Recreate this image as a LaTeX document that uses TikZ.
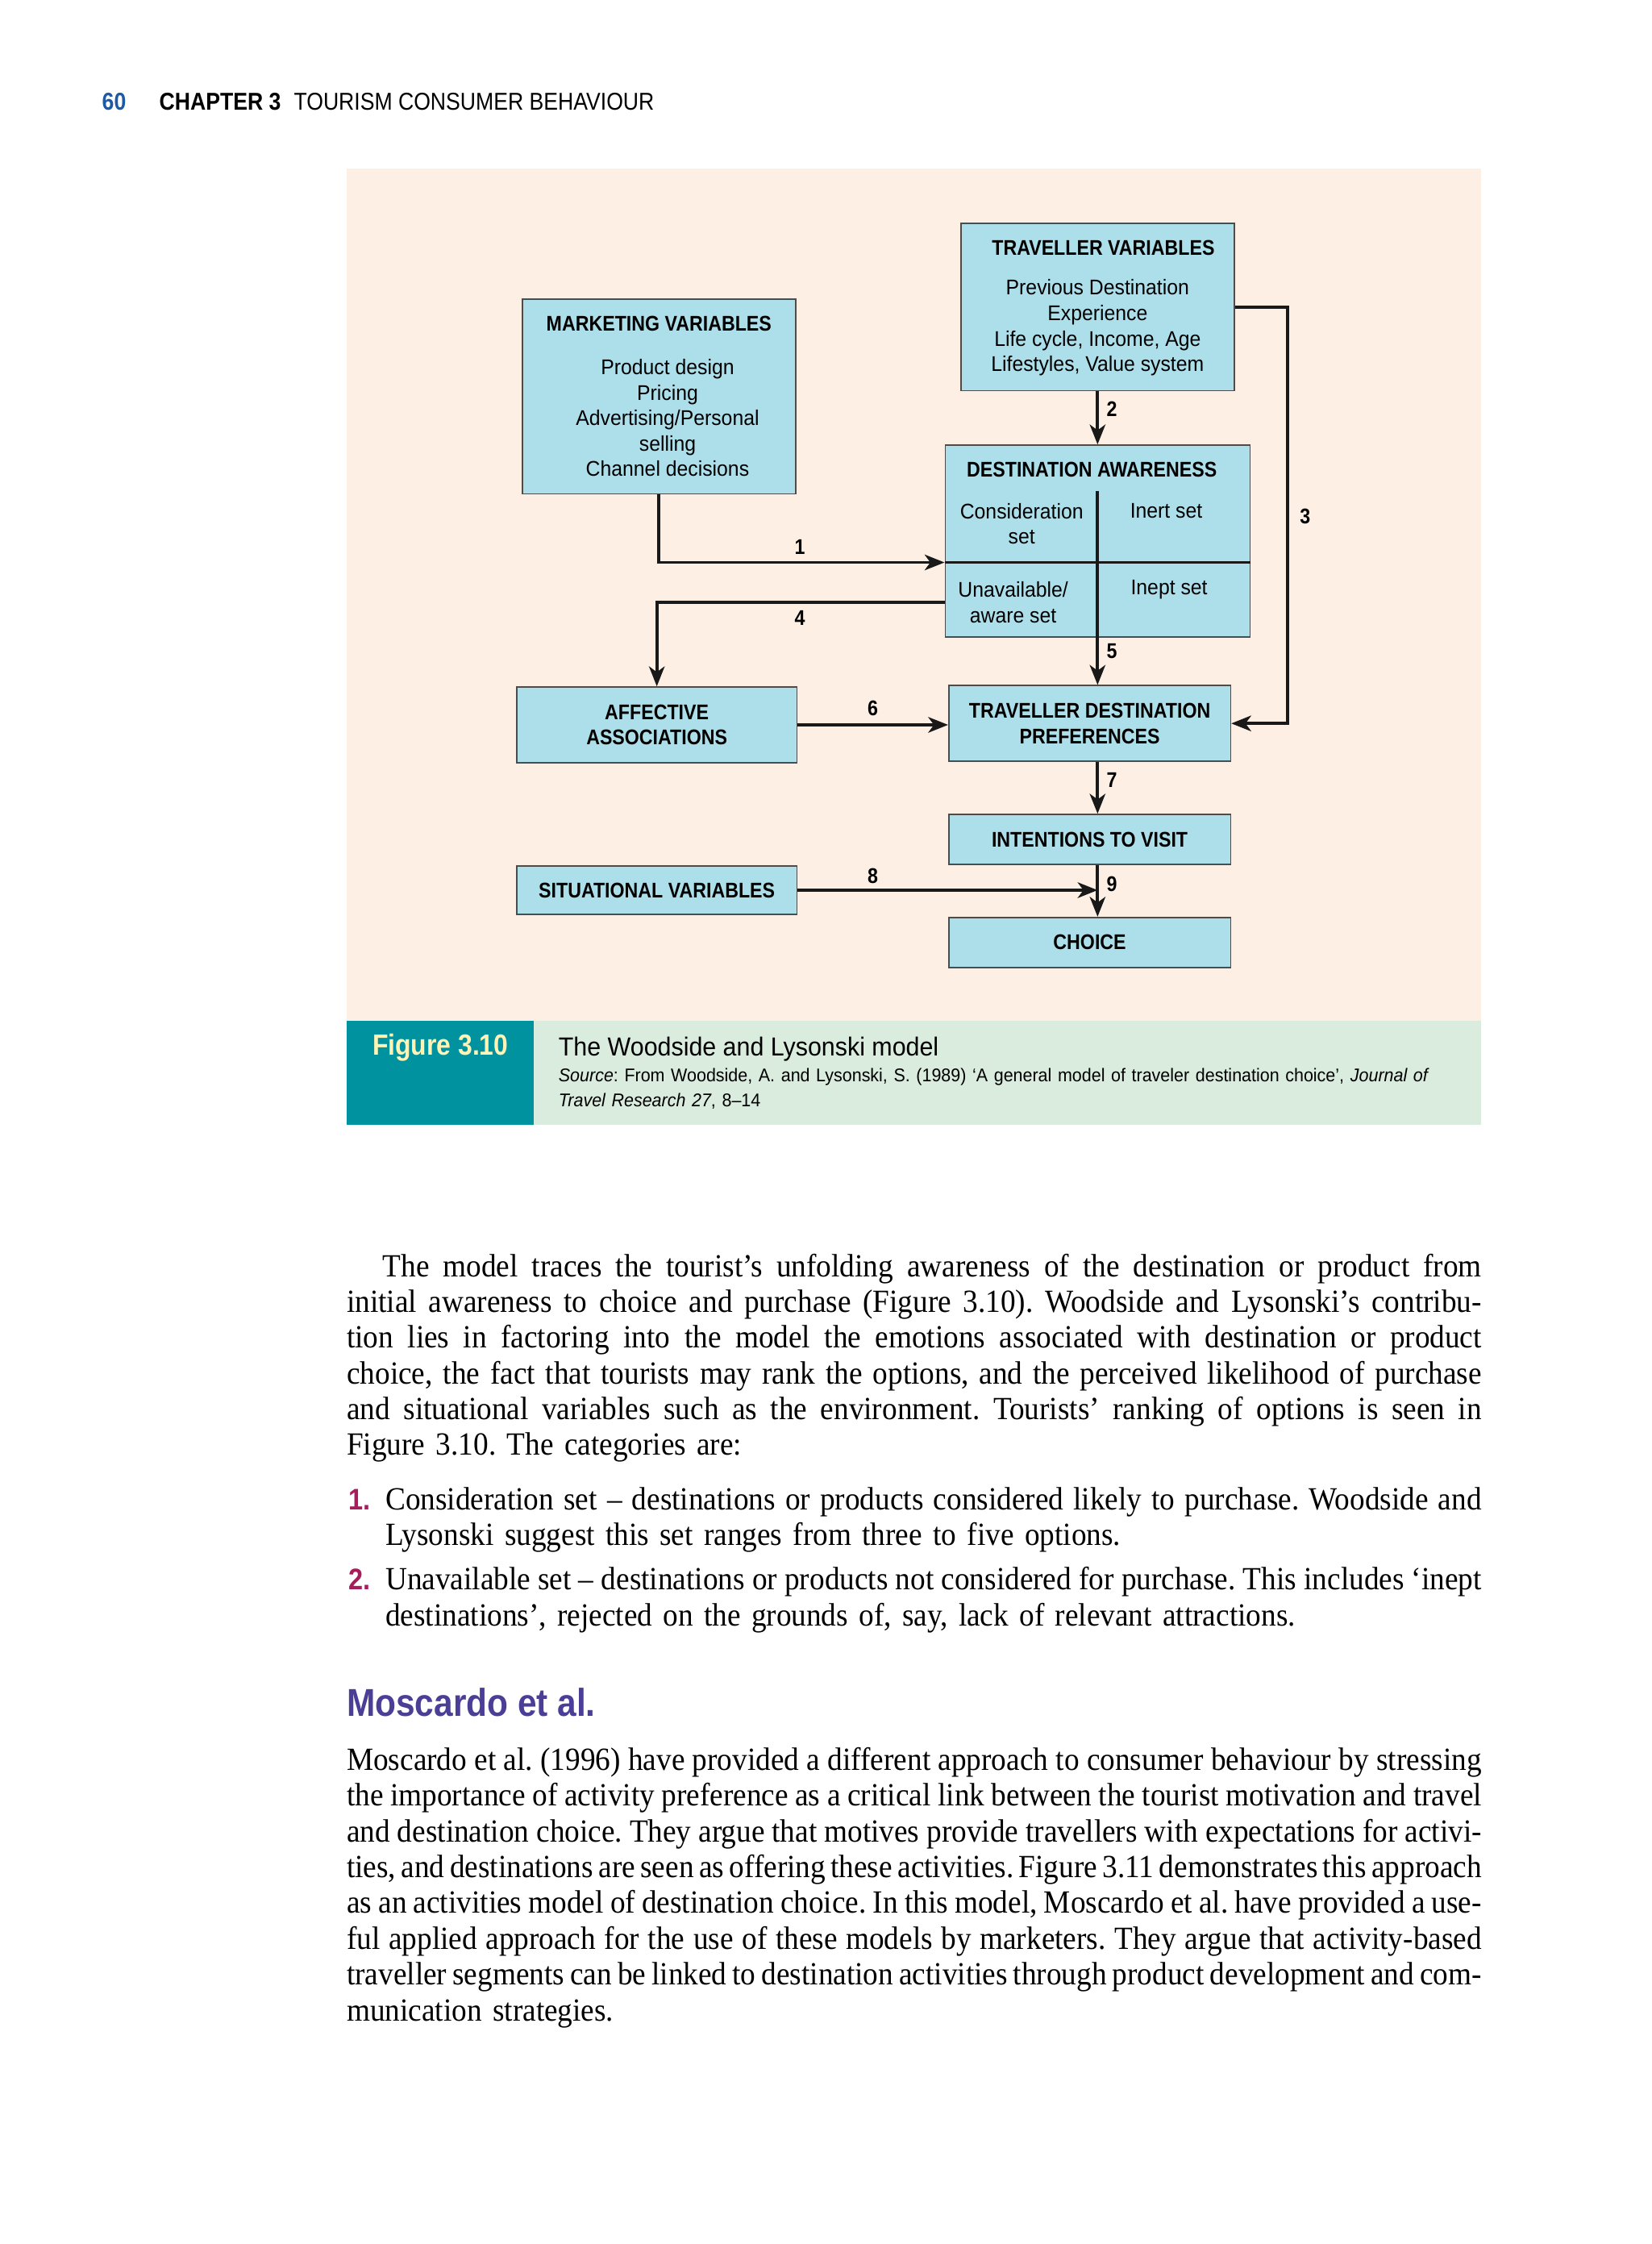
\documentclass[tikz,border=0pt]{standalone}
\usepackage{fontspec}
\setmainfont{Liberation Serif}[FakeStretch=0.93]
\setsansfont{Liberation Sans}[FakeStretch=0.94]
\newfontfamily\condsf{Liberation Sans}[FakeStretch=0.88]
\usepackage{xcolor}
\usetikzlibrary{positioning,calc,arrows.meta}

\definecolor{peach}{HTML}{FDEFE3}
\definecolor{boxblue}{HTML}{ADDFEB}
\definecolor{capgreen}{HTML}{D9ECDE}
\definecolor{figteal}{HTML}{00929E}
\definecolor{figyellow}{HTML}{FFF4B5}
\definecolor{headblue}{HTML}{1D5AA6}
\definecolor{headpurple}{HTML}{4A3E97}
\definecolor{listred}{HTML}{A51E5B}

\newlength\px
\setlength\px{0.505pt}
\newlength\bodyw
\setlength\bodyw{400.47pt}
\newlength\itemw
\setlength\itemw{386.83pt}
\newlength\parind
\setlength\parind{12.63pt}
\newcommand\fline[2][\bodyw]{\leavevmode\hbox to #1{\spaceskip=.225em plus 1em minus .12em\relax #2}}
\frenchspacing

\begin{document}
\begin{tikzpicture}[
	x=0.505pt, y=-0.505pt,
	box/.style={
		draw=black!70, line width=0.45pt, fill=boxblue,
		inner sep=0pt, align=center,
		font=\sffamily\fontsize{7.5}{9}\selectfont
	},
	ttl/.style={font=\condsf\bfseries\fontsize{7.5}{9}\selectfont, inner sep=0pt},
	num/.style={font=\condsf\bfseries\fontsize{7.5}{9}\selectfont, inner sep=0pt},
	cell/.style={font=\sffamily\fontsize{7.5}{9}\selectfont, align=center, inner sep=0pt},
	arr/.style={-{Stealth[length=7pt,width=5.5pt,inset=2pt]}, line width=1.1pt, draw=black!90},
	divline/.style={line width=1.1pt, draw=black!90},
	hdr/.style={font=\condsf\fontsize{8.6}{10}\selectfont, inner sep=0pt, anchor=base west},
	body/.style={font=\fontsize{11.4}{12.62}\selectfont, inner sep=0pt, anchor=base west, align=left},
	listno/.style={font=\condsf\bfseries\fontsize{10.5}{12.6}\selectfont, text=listred, inner sep=0pt, anchor=base west}
	]
	
	\fill[white] (0,0) rectangle (1154,1568);
	\useasboundingbox (0,0) rectangle (1154,1568);
	
	% --- running head ---
	\node[hdr, font=\condsf\bfseries\fontsize{8.6}{10}\selectfont, text=headblue] (pageno) at (71,77) {60};
	\node[hdr, font=\condsf\bfseries\fontsize{8.6}{10}\selectfont] (chap) at (111,77) {CHAPTER 3};
	\node[hdr] (chapttl) at (205,77) {TOURISM CONSUMER BEHAVIOUR};
	
	% --- figure panel ---
	\fill[peach] (242,118) rectangle (1035,713);
	\fill[capgreen] (242,713) rectangle (1035,786);
	\fill[figteal] (242,713) rectangle (373,786);
	
	% --- boxes ---
	\node[box, minimum width=191\px, minimum height=136\px] (mv) at (460.5,277) {};
	\node[ttl] (mvtitle) at (460.5,226) {MARKETING VARIABLES};
	\node[cell] (mvitems) at (466.5,292)
		{Product design\\ Pricing\\ Advertising/Personal\\ selling\\ Channel decisions};
	\node[box, minimum width=191\px, minimum height=117\px] (tv) at (767,214.5) {};
	\node[ttl] (tvtitle) at (771,173) {TRAVELLER VARIABLES};
	\node[cell] (tvitems) at (767,229)
		{Previous Destination\\ Experience\\ Life cycle, Income, Age\\ Lifestyles, Value system};
	\node[box, minimum width=213\px, minimum height=134\px] (da) at (767,378) {};
	\node[ttl] (datitle) at (763,328) {DESTINATION AWARENESS};
	\node[cell] (consset) at (714,366) {Consideration\\set};
	\node[cell] (inertset) at (815,357) {Inert set};
	\node[cell] (unavset) at (708,421) {Unavailable/\\aware set};
	\node[cell] (ineptset) at (817,412) {Inept set};
	
	\node[box, ttl, minimum width=196\px, minimum height=53\px] (aa) at (459,506.5) {AFFECTIVE\\ASSOCIATIONS};
	\node[box, ttl, minimum width=197\px, minimum height=53\px] (tdp) at (761.5,505.5) {TRAVELLER DESTINATION\\PREFERENCES};
	\node[box, ttl, minimum width=197\px, minimum height=35\px] (itv) at (761.5,586.5) {INTENTIONS TO VISIT};
	\node[box, ttl, minimum width=196\px, minimum height=34\px] (sv) at (459,622) {SITUATIONAL VARIABLES};
	\node[box, ttl, minimum width=197\px, minimum height=35\px] (ch) at (761.5,658.5) {CHOICE};
	
	% --- connectors ---
	\coordinate (dtop) at (767,343);
	\coordinate (dmid) at (767,393);
	\coordinate (c3) at (900,0);
	\coordinate (c4) at (da.west |- 0,421);
	
	\draw[divline] (dtop) -- (da.south);
	\draw[divline] (dmid -| da.west) -- (dmid -| da.east);
	\draw[arr] (mv.south) |- (dmid -| da.west);
	\draw[arr] (tv.south) -- (da.north);
	\draw[arr] (tv.east) -- (tv.east -| c3) -- (tdp.east -| c3) -- (tdp.east);
	\draw[arr] (c4) -| (aa.north);
	\draw[arr] (da.south) -- (tdp.north -| da.south);
	\draw[arr] (aa.east) -- (aa.east -| tdp.west);
	\draw[arr] (tdp.south -| da.south) -- (itv.north -| da.south);
	\draw[arr] (sv.east) -- (sv.east -| da.south);
	\draw[arr] (itv.south -| da.south) -- (ch.north -| da.south);
	
	\node[num] (n1) at (559,382) {1};
	\node[num] (n2) at (777,286) {2};
	\node[num] (n3) at (912,361) {3};
	\node[num] (n4) at (559,432) {4};
	\node[num] (n5) at (777,455) {5};
	\node[num] (n6) at (610,495) {6};
	\node[num] (n7) at (777,545) {7};
	\node[num] (n8) at (610,612) {8};
	\node[num] (n9) at (777,618) {9};
	
	% --- caption ---
	\node[font=\condsf\bfseries\fontsize{10.3}{12}\selectfont, text=figyellow, anchor=base west, inner sep=0pt] (figno) at (260,737) {Figure 3.10};
	\node[font=\sffamily\fontsize{9.2}{11}\selectfont, anchor=base west, inner sep=0pt] (figttl) at (390,738) {The Woodside and Lysonski model};
	\node[font=\sffamily\fontsize{6.5}{8.6}\selectfont, anchor=base west, inner sep=0pt, text width=645\px, align=left] (figsrc) at (390,756)
		{\textit{Source}: From Woodside, A. and Lysonski, S. (1989) ‘A general model of traveler destination choice’, \textit{Journal of}\\
		 \textit{Travel Research 27}, 8–14};
	
	% --- text ---
	\node[body, text width=793\px] (para1) at (242,892)
		{\hspace*{\parind}\fline[\dimexpr\bodyw-\parind\relax]{The model traces the tourist’s unfolding awareness of the destination or product from}\\
		 \fline{initial awareness to choice and purchase (Figure 3.10). Woodside and Lysonski’s contribu-}\\
		 \fline{tion lies in factoring into the model the emotions associated with destination or product}\\
		 \fline{choice, the fact that tourists may rank the options, and the perceived likelihood of purchase}\\
		 \fline{and situational variables such as the environment. Tourists’ ranking of options is seen in}\\
		 Figure 3.10. The categories are:};
	
	\node[listno] (li1) at (243,1055) {1.};
	\node[body, text width=766\px] (item1) at (269,1055)
		{\fline[\itemw]{Consideration set – destinations or products considered likely to purchase. Woodside and}\\
		 Lysonski suggest this set ranges from three to five options.};
	\node[listno] (li2) at (243,1111) {2.};
	\node[body, text width=766\px] (item2) at (269,1111)
		{\fline[\itemw]{Unavailable set – destinations or products not considered for purchase. This includes ‘inept}\\
		 destinations’, rejected on the grounds of, say, lack of relevant attractions.};
	
	\node[font=\condsf\bfseries\fontsize{13.7}{15}\selectfont, text=headpurple, anchor=base west, inner sep=0pt] (mhead) at (242,1199) {Moscardo et al.};
	
	\node[body, text width=793\px] (para2) at (242,1237)
		{\fline{Moscardo et al. (1996) have provided a different approach to consumer behaviour by stressing}\\
		 \fline{the importance of activity preference as a critical link between the tourist motivation and travel}\\
		 \fline{and destination choice. They argue that motives provide travellers with expectations for activi-}\\
		 \fline{ties, and destinations are seen as offering these activities. Figure 3.11 demonstrates this approach}\\
		 \fline{as an activities model of destination choice. In this model, Moscardo et al. have provided a use-}\\
		 \fline{ful applied approach for the use of these models by marketers. They argue that activity-based}\\
		 \fline{traveller segments can be linked to destination activities through product development and com-}\\
		 munication strategies.};
	
\end{tikzpicture}
\end{document}
